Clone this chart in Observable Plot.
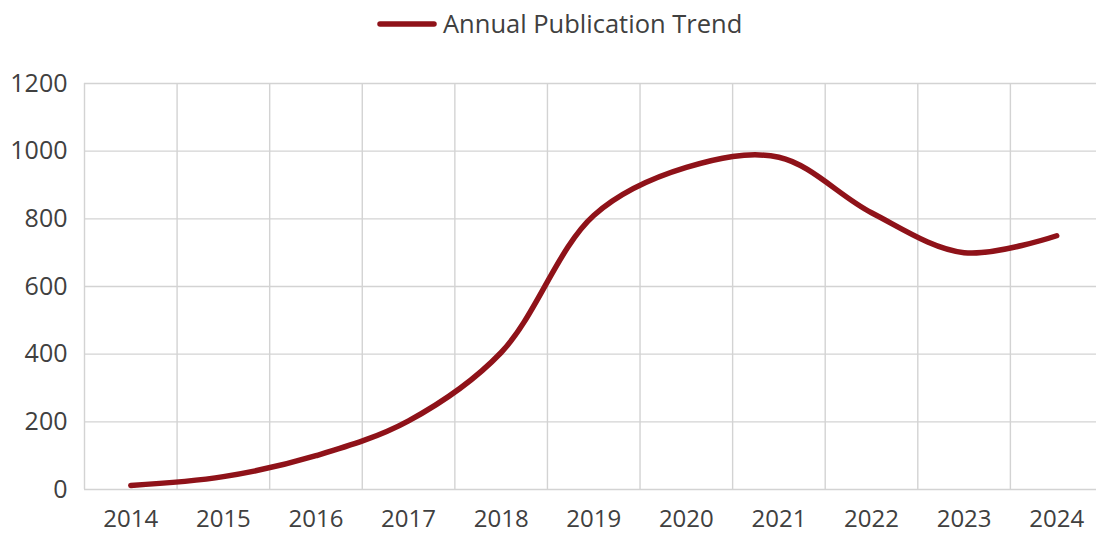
<!DOCTYPE html>
<html>
<head>
<meta charset="utf-8">
<script src="https://cdn.jsdelivr.net/npm/d3@7"></script>
<script src="https://cdn.jsdelivr.net/npm/@observablehq/plot@0.6"></script>
<style>
  body { margin: 0; background: #fff; font-family: "Open Sans", "Noto Sans", sans-serif; }
  #legend { position: relative; height: 48px; }
  #legend svg.sw { position: absolute; left: 376px; top: 19px; }
  #legend span { position: absolute; left: 443px; top: 6px; font-size: 25.5px; line-height: 34px; color: #404040; white-space: nowrap; }
</style>
</head>
<body>
<div id="legend">
  <svg class="sw" width="62" height="10"><line x1="4" y1="5" x2="58" y2="5" stroke="#8f1219" stroke-width="5.5" stroke-linecap="round"/></svg>
  <span>Annual Publication Trend</span>
</div>
<div id="chart"></div>
<script>
const years = [2014, 2015, 2016, 2017, 2018, 2019, 2020, 2021, 2022, 2023, 2024];
const counts = [12, 38, 100, 203, 405, 810, 952, 982, 818, 700, 750];
const yTicks = [0, 200, 400, 600, 800, 1000, 1200];
const seriesName = "Annual Publication Trend";

const data = years.map((y, i) => ({year: y, count: counts[i], series: seriesName}));
const boundaries = years.map(y => y - 0.5);

const chart = Plot.plot({
  width: 1096,
  height: 485,
  marginLeft: 84,
  marginRight: 0,
  marginTop: 35,
  marginBottom: 44,
  style: {fontFamily: "'Open Sans', 'Noto Sans', sans-serif", fontSize: "25px", color: "#404040", background: "#fff"},
  x: {type: "linear", domain: [2013.5, 2024.43]},
  y: {domain: [0, 1200]},
  marks: [
    Plot.ruleY(yTicks, {stroke: "#d3d3d3", strokeWidth: 1.4}),
    Plot.ruleX(boundaries, {stroke: "#d3d3d3", strokeWidth: 1.4}),
    Plot.axisX(years, {tickSize: 0, tickPadding: 20, tickFormat: d => String(d), fontSize: 24, label: null}),
    Plot.axisY(yTicks, {tickSize: 0, tickPadding: 17, tickFormat: d => String(d), fontSize: 25, label: null}),
    Plot.line(data, {x: "year", y: "count", curve: "catmull-rom", stroke: "#8f1219", strokeWidth: 5.5, strokeLinecap: "round", strokeLinejoin: "round"})
  ]
});
document.getElementById("chart").appendChild(chart);
</script>
</body>
</html>
